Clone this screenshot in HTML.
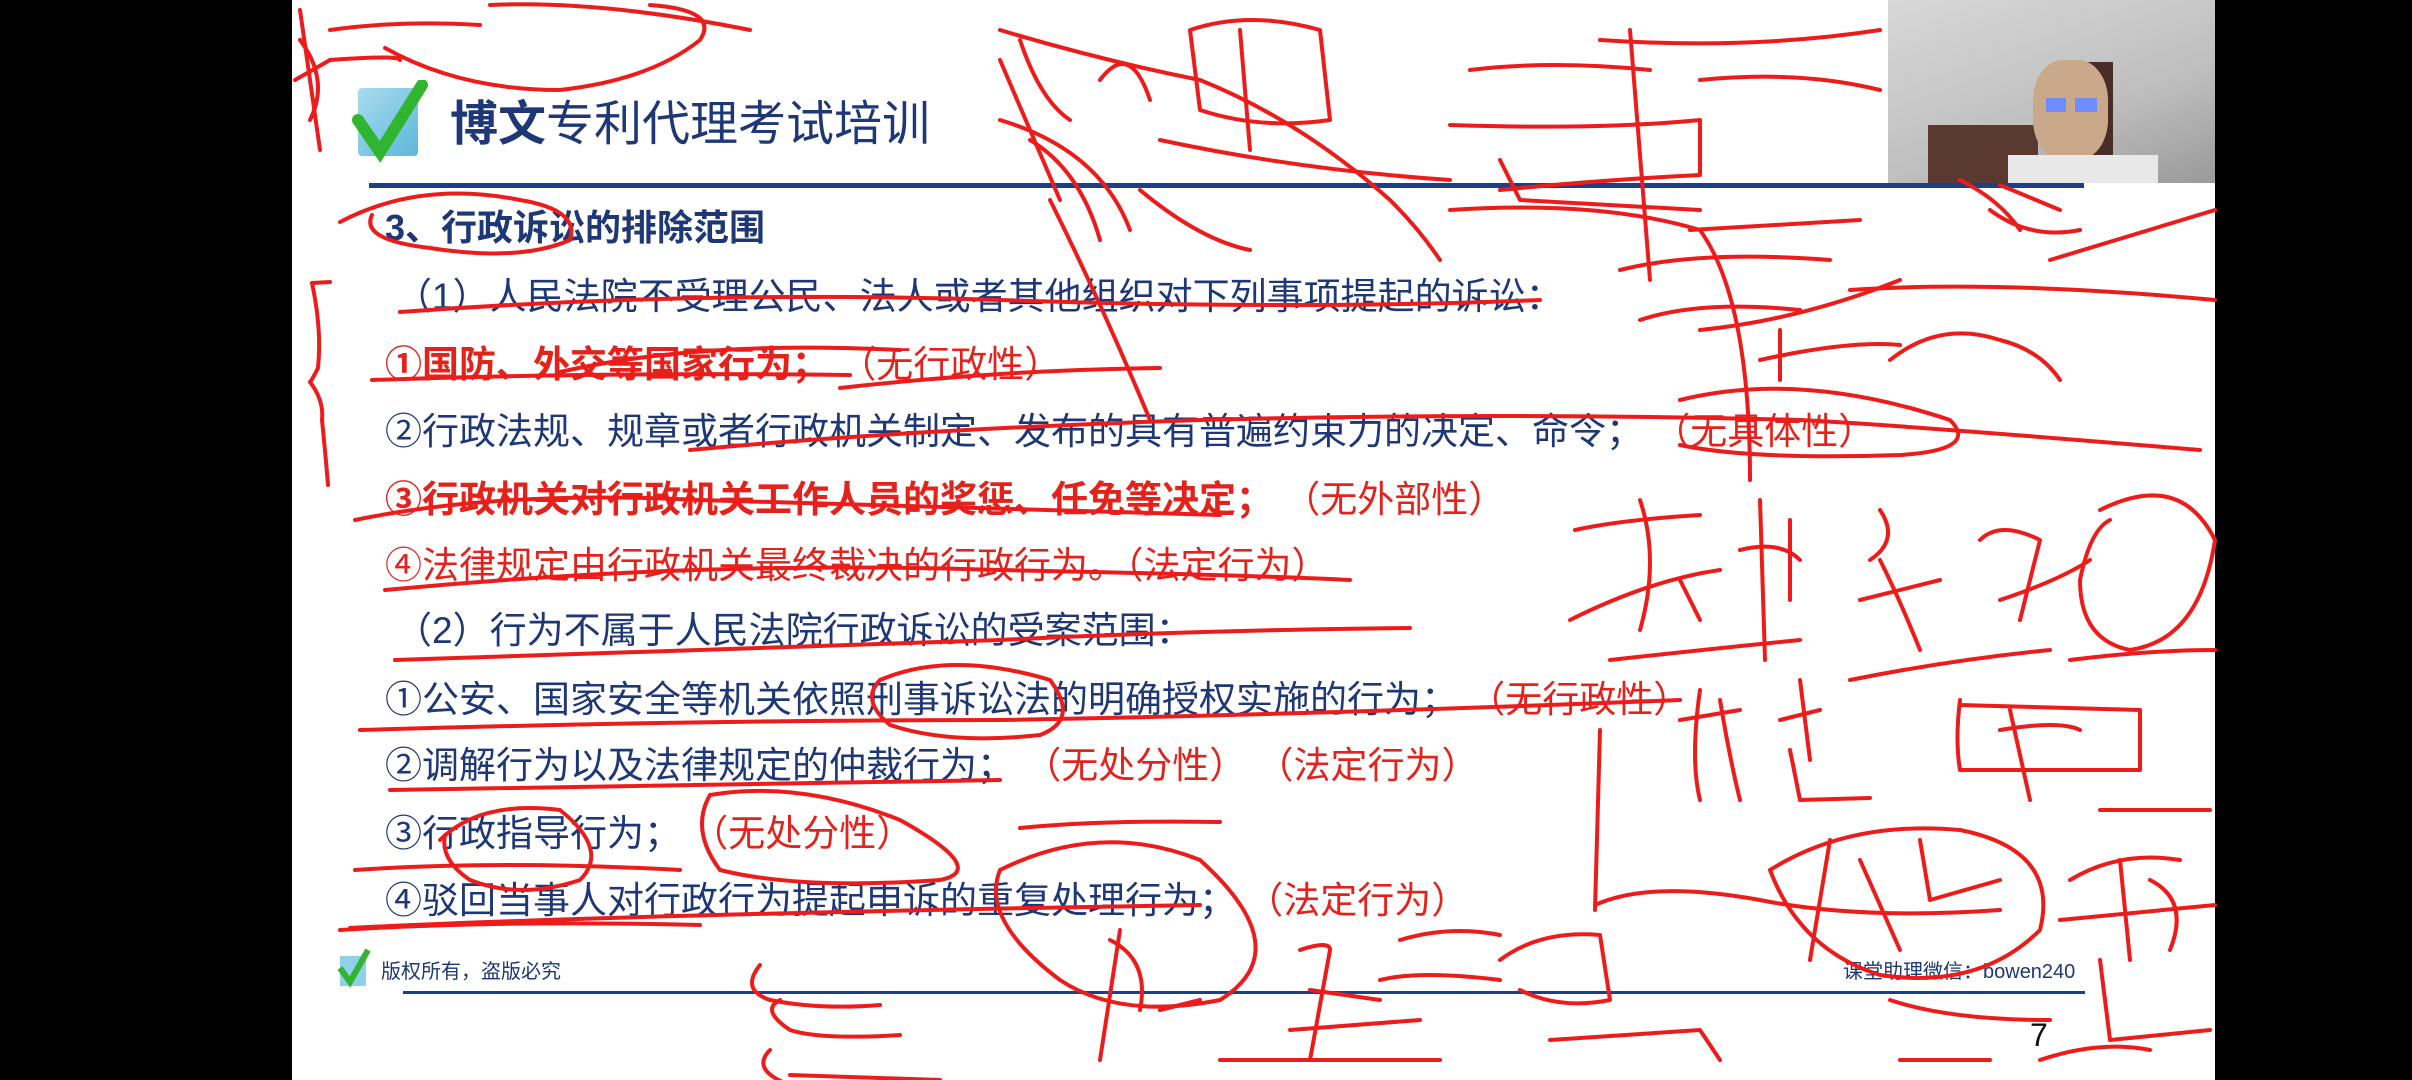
<!DOCTYPE html>
<html><head><meta charset="utf-8"><style>
html,body{margin:0;padding:0;}
body{width:2412px;height:1080px;background:#000;position:relative;overflow:hidden;font-family:"Liberation Sans","Noto Sans CJK SC",sans-serif;}
#slide{position:absolute;left:292px;top:0;width:1923px;height:1080px;background:#fff;}
.t{position:absolute;white-space:nowrap;font-size:37px;color:#1d3777;line-height:40px;}
.r{color:#e3231b;}
.b{font-weight:bold;}
</style></head><body>
<div id="slide"></div>
<!-- logo -->
<div style="position:absolute;left:358px;top:88px;width:60px;height:68px;background:linear-gradient(135deg,#a9dcef,#5fb7da);border-radius:4px;"></div>
<svg style="position:absolute;left:350px;top:80px" width="80" height="85"><path d="M8 40 L30 72 L72 5" stroke="#2fb52f" stroke-width="12" fill="none" stroke-linecap="round"/></svg>
<div class="t" style="left:450px;top:100px;font-size:48px;line-height:50px;color:#1d3777"><b>博文</b>专利代理考试培训</div>
<div style="position:absolute;left:369px;top:183px;width:1715px;height:5px;background:#1d3f88;"></div>

<div class="t b" style="left:385px;top:208px;font-size:36px">3、行政诉讼的排除范围</div>
<div class="t" style="left:395px;top:277px">（1）人民法院不受理公民、法人或者其他组织对下列事项提起的诉讼：</div>
<div class="t r" style="left:385px;top:345px"><b>①国防、外交等国家行为；</b> （无行政性）</div>
<div class="t" style="left:385px;top:412px">②行政法规、规章或者行政机关制定、发布的具有普遍约束力的决定、命令； <span class="r">（无具体性）</span></div>
<div class="t r" style="left:385px;top:480px"><b>③行政机关对行政机关工作人员的奖惩、任免等决定；</b> （无外部性）</div>
<div class="t r" style="left:385px;top:546px">④法律规定由行政机关最终裁决的行政行为。（法定行为）</div>
<div class="t" style="left:395px;top:611px">（2）行为不属于人民法院行政诉讼的受案范围：</div>
<div class="t" style="left:385px;top:680px">①公安、国家安全等机关依照刑事诉讼法的明确授权实施的行为； <span class="r">（无行政性）</span></div>
<div class="t" style="left:385px;top:746px">②调解行为以及法律规定的仲裁行为； <span class="r">（无处分性） （法定行为）</span></div>
<div class="t" style="left:385px;top:814px">③行政指导行为； <span class="r">（无处分性）</span></div>
<div class="t" style="left:385px;top:881px">④驳回当事人对行政行为提起申诉的重复处理行为； <span class="r">（法定行为）</span></div>

<!-- footer -->
<svg style="position:absolute;left:336px;top:948px" width="36" height="40"><rect x="4" y="8" width="26" height="30" fill="#8fd0ea"/><path d="M4 20 L14 34 L32 2" stroke="#2fb52f" stroke-width="6" fill="none"/></svg>
<div class="t" style="left:381px;top:960px;font-size:20px;line-height:24px">版权所有，盗版必究</div>
<div class="t" style="left:1843px;top:960px;font-size:20px;line-height:24px">课堂助理微信：bowen240</div>
<div style="position:absolute;left:403px;top:991px;width:1682px;height:3px;background:#1d3f88;"></div>
<div class="t" style="left:2030px;top:1015px;font-size:32px;color:#111">7</div>

<!-- webcam -->
<div style="position:absolute;left:1888px;top:0;width:327px;height:183px;background:linear-gradient(160deg,#d8d8d8,#bfbfbf 60%,#9a9a9a);overflow:hidden;">
<div style="position:absolute;left:40px;top:125px;width:110px;height:58px;background:#5a3a30;"></div>
<div style="position:absolute;left:170px;top:62px;width:55px;height:95px;background:#4a2c28;"></div>
<div style="position:absolute;left:145px;top:60px;width:75px;height:100px;border-radius:40%;background:#c9a98a;"></div>
<div style="position:absolute;left:158px;top:98px;width:20px;height:14px;background:#6f8cff;"></div>
<div style="position:absolute;left:187px;top:98px;width:22px;height:14px;background:#6f8cff;"></div>
<div style="position:absolute;left:120px;top:155px;width:150px;height:30px;background:#e8e8e8;"></div>
</div>

<svg style="position:absolute;left:0;top:0" width="2412" height="1080" fill="none" stroke="#ee1b1b" stroke-width="4" stroke-linecap="round" stroke-linejoin="round">
<path d="M330 282 L312 283 Q322 330 318 368 Q312 380 310 382 Q324 400 322 420 Q326 460 328 485"/>
<path d="M340 222 Q420 180 520 200 Q580 210 570 240 Q520 262 430 248 Q360 240 372 215"/>
<path d="M400 312 Q700 290 1000 300 Q1300 310 1540 300"/>
<path d="M372 380 Q600 372 850 375 M560 372 Q700 340 900 350 M840 388 Q1000 370 1160 368"/>
<path d="M690 450 Q900 430 1200 420 Q1500 412 1800 420 Q1900 425 2200 450"/>
<path d="M355 520 Q500 490 700 500 Q900 505 1220 515"/>
<path d="M385 590 Q700 560 1000 570 Q1250 575 1350 580"/>
<path d="M395 660 Q700 650 1000 640 Q1200 630 1410 628"/>
<path d="M360 730 Q700 720 1000 720 Q1300 715 1680 700"/>
<path d="M390 790 Q700 785 1000 780 M1020 828 Q1100 820 1220 822"/>
<path d="M355 870 Q500 860 680 870"/>
<path d="M340 930 Q500 920 700 925 M350 928 Q600 915 1200 905"/>
<path d="M440 840 Q480 800 560 810 Q610 850 580 880 Q520 900 470 880 Q440 860 445 835"/>
<path d="M710 795 Q800 780 900 820 Q990 870 940 880 Q800 890 720 870 Q690 830 710 795"/>
<path d="M1000 870 Q1100 820 1200 860 Q1300 950 1220 1000 Q1120 1020 1060 980 Q980 920 1000 870"/>
<path d="M880 680 Q950 650 1050 680 Q1080 720 1040 735 Q950 745 890 725 Q860 700 880 680"/>
<path d="M1680 400 Q1800 370 1950 420 Q1980 450 1900 455 Q1750 460 1680 445"/>
<path d="M330 30 Q400 20 480 25 M330 60 Q400 55 400 60 M385 48 Q460 90 560 90 Q650 80 700 40 Q720 10 650 5"/>
<path d="M300 10 L320 150 M300 40 Q330 80 310 120 M295 80 L330 60"/>
<path d="M490 5 Q600 0 750 30 M1000 30 Q1100 60 1200 80 Q1300 120 1390 200 Q1420 230 1440 260"/>
<path d="M1020 40 Q1040 100 1070 120 M1030 140 Q1080 170 1100 240 M1100 80 Q1130 40 1150 100"/>
<path d="M1190 30 Q1250 10 1320 30 L1330 120 Q1260 130 1200 110 Z M1240 30 L1250 150"/>
<path d="M1140 190 Q1200 240 1250 250 M1160 140 Q1300 170 1450 180"/>
<path d="M1470 70 Q1550 60 1650 70 M1450 125 Q1600 130 1700 120 L1700 175 Q1600 180 1500 190 M1630 30 L1650 280"/>
<path d="M1600 40 Q1750 50 1880 30 M1700 80 Q1800 70 1880 90 M1500 160 L1520 200 L1700 210 M1690 230 L1860 220"/>
<path d="M1960 180 Q2000 200 2020 230 M2000 185 L2060 210 M1990 210 Q2030 240 2080 230"/>
<path d="M1450 210 Q1600 200 1700 230 Q1750 300 1750 480 M1620 270 Q1700 250 1830 260"/>
<path d="M1640 320 Q1700 300 1800 310 M1700 330 Q1800 320 1900 280 M2050 260 Q2150 230 2215 210"/>
<path d="M1780 330 L1780 380 M1760 360 Q1850 340 1900 345 M1890 360 Q1940 320 2000 340 Q2040 350 2060 380"/>
<path d="M1850 290 Q2000 280 2215 300"/>
<path d="M1000 120 Q1100 150 1130 230 M1000 60 L1060 200 M1050 200 Q1100 300 1150 420"/>
<path d="M1575 530 Q1620 520 1700 515 M1640 500 Q1660 560 1640 630 M1570 620 Q1650 580 1720 570 M1680 580 Q1690 600 1700 620"/>
<path d="M1760 500 L1765 660 M1740 550 Q1780 540 1800 560 M1790 520 L1790 600"/>
<path d="M1880 510 Q1900 540 1870 560 M1880 560 Q1900 600 1920 650 M1860 600 Q1900 590 1940 580"/>
<path d="M1980 540 Q2000 520 2040 540 L2020 620 M2000 600 Q2060 580 2090 560"/>
<path d="M2100 510 Q2180 470 2215 540 Q2200 640 2130 650 Q2080 640 2080 580 Q2090 530 2110 520"/>
<path d="M1610 660 Q1700 650 1800 640 M1850 680 Q1950 660 2050 650 M2070 660 Q2150 650 2215 650"/>
<path d="M1700 690 Q1690 760 1700 800 M1720 700 Q1730 760 1740 800 M1680 720 L1740 710"/>
<path d="M1780 720 L1820 710 M1790 750 L1800 800 L1870 798 M1800 680 L1810 760"/>
<path d="M1960 700 Q1955 740 1960 770 L2140 770 L2140 710 L1960 705 M2010 710 L2030 800 M2000 730 Q2060 720 2080 730"/>
<path d="M2100 810 Q2200 810 2210 810"/>
<path d="M1600 730 L1595 910"/>
<path d="M1595 905 Q1650 880 1760 900 Q1860 920 2000 910"/>
<path d="M1770 870 Q1850 820 1960 830 Q2060 850 2040 930 Q1980 990 1880 975 Q1800 950 1770 870"/>
<path d="M1830 840 L1810 960 M1860 860 L1900 950 M1920 840 L1930 900 L2000 880"/>
<path d="M2070 880 Q2120 850 2180 860 M2120 860 L2130 960 M2150 880 Q2190 900 2170 950 M2060 920 L2215 905"/>
<path d="M760 965 Q740 990 770 1000 Q820 1010 880 1005 M780 1000 Q760 1010 790 1030 Q820 1040 900 1035"/>
<path d="M770 1050 Q750 1070 790 1085 M790 1075 L940 1080"/>
<path d="M1120 930 L1100 1060 M1110 940 Q1150 960 1140 1010 M1160 1010 L1200 1000"/>
<path d="M1300 950 Q1330 940 1330 950 L1310 1060 M1310 990 L1380 1000 M1290 1030 L1420 1020 M1220 1060 L1440 1060"/>
<path d="M1500 960 Q1540 930 1600 935 L1610 1000 Q1560 1010 1520 990 M1550 1040 L1700 1030 L1720 1060"/>
<path d="M1400 940 Q1450 925 1500 935 M1380 980 Q1420 970 1500 980"/>
<path d="M1890 1000 Q1950 1020 2050 1020 M1900 1060 L1990 1060"/>
<path d="M2100 960 L2110 1040 L2210 1030"/>
<path d="M2040 1060 Q2100 1040 2150 1050"/>
</svg>
</body></html>
